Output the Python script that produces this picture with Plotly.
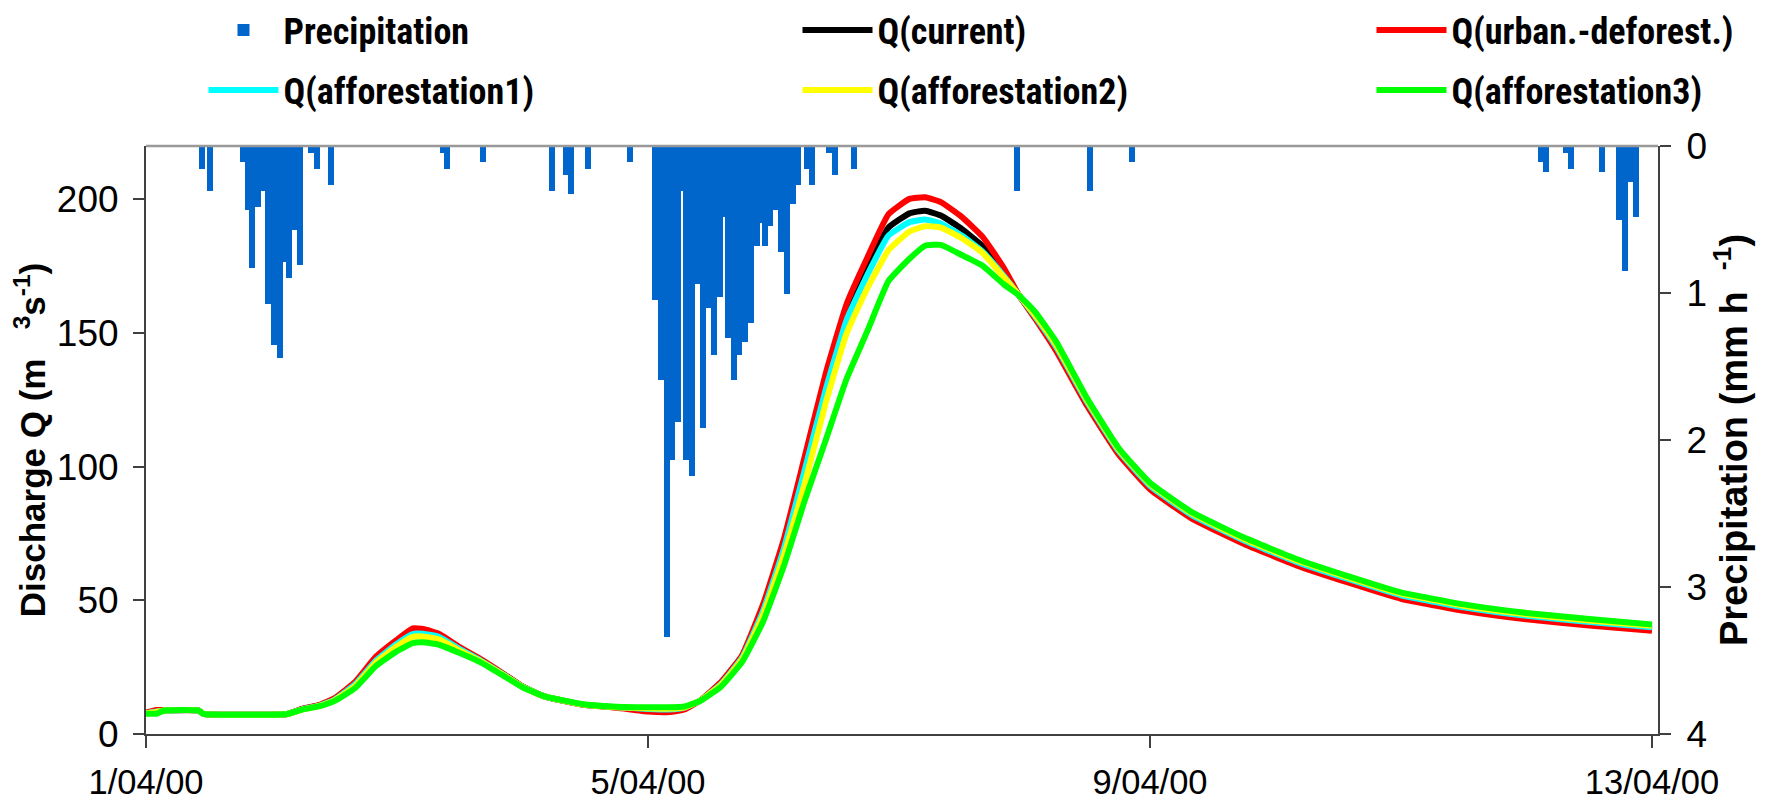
import pandas as pd
import plotly.graph_objects as go

START = pd.Timestamp("2000-04-01 00:00")

# ---------------- data ----------------
# precipitation bars: centre time in hours after 1/04/00 00:00, intensity in mm/h
precip_hours = [10.7, 12.2, 18.6, 19.4, 20.3, 21.4, 22.5, 23.4, 24.5, 25.6,
                26.5, 27.3, 28.4, 29.5, 31.6, 32.7, 35.4, 56.7, 57.5, 64.5,
                77.6, 80.2, 81.3, 84.5, 92.6, 97.3, 98.5, 99.6, 100.7, 101.7,
                102.5, 103.3, 104.4, 105.5, 106.5, 107.6, 108.6, 109.8, 110.4, 111.3,
                112.4, 113.5, 114.6, 115.7, 116.8, 117.5, 118.4, 119.4, 120.4, 121.4,
                122.6, 123.7, 124.8, 126.3, 127.4, 130.6, 131.8, 135.4, 166.6, 180.5,
                188.6, 266.7, 267.7, 271.5, 272.5, 278.4, 281.7, 282.8, 283.9, 284.9]
precip_mm_h = [0.154, 0.306, 0.109, 0.435, 0.830, 0.415, 0.306, 1.075, 1.354, 1.442,
               0.789, 0.898, 0.571, 0.810, 0.048, 0.156, 0.265, 0.048, 0.156, 0.109,
               0.306, 0.197, 0.327, 0.156, 0.109, 1.048, 1.592, 3.340, 2.136, 1.878,
               0.306, 2.136, 2.245, 0.941, 1.918, 1.100, 1.422, 1.027, 0.485, 1.306,
               1.592, 1.422, 1.333, 1.204, 0.680, 0.526, 0.680, 0.546, 0.438, 0.723,
               1.007, 0.397, 0.265, 0.156, 0.265, 0.048, 0.197, 0.156, 0.306, 0.306,
               0.109, 0.109, 0.177, 0.048, 0.156, 0.177, 0.503, 0.850, 0.245, 0.483]

# discharge: hours after 1/04/00 00:00 and Q (m3/s) for each scenario
q_hours = [0, 2, 3.5, 10, 11, 27, 30, 33, 36, 40,
           44, 48, 51, 53, 56, 60, 64, 68, 72, 76,
           80, 84, 90, 96, 100, 103, 106, 110, 114, 118,
           122, 126, 130, 134, 138, 142, 146, 149, 152, 156,
           160, 164, 167, 170, 174, 180, 186, 192, 200, 210,
           220, 230, 240, 252, 264, 276, 288]
q_current = [7.8, 8.6, 8.8, 8.8, 7.5, 7.5, 9.4, 10.6, 13.0, 19.0,
             28.0, 34.3, 38.0, 38.2, 36.8, 32.0, 27.6, 22.8, 17.7, 14.2,
             12.4, 10.9, 10.0, 9.2, 9.0, 9.8, 12.5, 19.0, 29.0, 47.0,
             71.0, 101.5, 132.0, 158.0, 175.0, 189.5, 194.8, 195.8, 194.0, 189.0,
             182.5, 172.5, 164.0, 156.0, 144.5, 123.5, 105.4, 92.4, 81.4, 71.9,
             63.9, 57.4, 51.4, 46.9, 43.7, 41.4, 39.4]
q_urban = [8.0, 9.0, 9.0, 8.8, 7.5, 7.5, 9.5, 10.8, 13.3, 19.5,
           29.0, 35.3, 39.5, 39.3, 37.5, 32.5, 28.0, 23.0, 17.8, 14.2,
           12.3, 10.8, 9.8, 8.4, 8.2, 9.2, 12.6, 19.5, 29.5, 48.5,
           73.0, 104.0, 135.0, 161.0, 178.5, 194.5, 200.2, 200.8, 199.0, 193.5,
           186.0, 174.5, 164.0, 155.5, 143.5, 122.7, 104.6, 91.6, 80.6, 71.1,
           63.1, 56.6, 50.6, 46.1, 42.9, 40.6, 38.6]
q_aff1 = [7.7, 8.4, 8.8, 8.8, 7.5, 7.5, 9.3, 10.5, 12.8, 18.6,
          27.5, 33.8, 37.4, 37.5, 36.4, 31.8, 27.5, 22.7, 17.7, 14.2,
          12.4, 10.9, 10.0, 9.4, 9.2, 9.9, 12.5, 18.8, 28.6, 46.0,
          69.5, 99.0, 129.0, 155.0, 172.0, 186.5, 191.5, 192.5, 191.0, 186.5,
          180.5, 171.5, 164.0, 156.3, 145.0, 124.1, 105.9, 92.9, 81.9, 72.4,
          64.4, 57.9, 51.9, 47.4, 44.2, 41.9, 39.9]
q_aff2 = [7.7, 8.2, 8.8, 8.8, 7.5, 7.5, 9.2, 10.4, 12.6, 18.0,
          26.8, 32.8, 36.3, 36.5, 35.4, 31.2, 27.2, 22.5, 17.6, 14.2,
          12.4, 10.9, 10.0, 9.6, 9.5, 10.0, 12.5, 18.5, 28.0, 44.5,
          67.0, 94.0, 124.0, 150.0, 167.0, 181.0, 188.0, 190.0, 189.5, 185.5,
          180.0, 171.0, 164.0, 156.8, 145.8, 124.8, 106.5, 93.5, 82.5, 73.0,
          65.0, 58.5, 52.5, 48.0, 44.8, 42.5, 40.5]
q_aff3 = [7.6, 7.6, 8.8, 8.8, 7.5, 7.5, 9.2, 10.3, 12.3, 17.2,
          25.5, 31.0, 34.0, 34.3, 33.4, 30.3, 26.8, 22.2, 17.5, 14.2,
          12.5, 11.0, 10.2, 10.0, 10.0, 10.3, 12.4, 17.8, 27.0, 42.0,
          63.0, 87.5, 110.0, 133.0, 151.0, 169.5, 177.8, 182.7, 183.0, 179.2,
          175.2, 168.3, 164.0, 158.0, 147.0, 125.5, 107.0, 94.0, 83.0, 73.5,
          65.5, 59.0, 53.0, 48.5, 45.3, 43.0, 41.0]

tick_dates = ["2000-04-01", "2000-04-05", "2000-04-09", "2000-04-13"]
tick_labels = ["1/04/00", "5/04/00", "9/04/00", "13/04/00"]
q_ticks = [0, 50, 100, 150, 200]
p_ticks = [0, 1, 2, 3, 4]

# ---------------- figure ----------------
def to_time(hours):
    return START + pd.to_timedelta(hours, unit="h")

OFF = 8                      # default page margin of the html body
PAGE_W, PAGE_H = 1765, 807
W, H = PAGE_W - OFF, PAGE_H - OFF
# plot area in page pixels
PL, PR, PT, PB = 146, 1658, 146, 734
ML, MR, MT, MB = PL - OFF, W - (PR - OFF), PT - OFF, H - (PB - OFF)
PW, PH = PR - PL, PB - PT

NARROW = "Liberation Sans Narrow, Arial Narrow, Roboto Condensed, DejaVu Sans Condensed, sans-serif"
REG = "Liberation Sans, Arial, sans-serif"
AXIS_COL = "#404040"

fig = go.Figure()

fig.add_trace(go.Bar(
    x=to_time(precip_hours), y=precip_mm_h, name="Precipitation",
    marker=dict(color="#0066CC", line=dict(width=0)),
    width=1.1 * 3600 * 1000, yaxis="y", legend="legend",
))

series = [
    ("Q(current)", q_current, "#000000", "legend2"),
    ("Q(urban.-deforest.)", q_urban, "#FF0000", "legend3"),
    ("Q(afforestation1)", q_aff1, "#00FFFF", "legend4"),
    ("Q(afforestation2)", q_aff2, "#FFFF00", "legend5"),
    ("Q(afforestation3)", q_aff3, "#00FF00", "legend6"),
]
for name, vals, col, leg in series:
    fig.add_trace(go.Scatter(
        x=to_time(q_hours), y=vals, name=name, mode="lines",
        line=dict(color=col, width=6, shape="spline", smoothing=0.4),
        yaxis="y2", legend=leg,
    ))

def px_x(px):          # page px -> paper x
    return (px - PL) / PW

def px_y(py):          # page px -> paper y
    return (PB - py) / PH

ITEMW = 70
TEXT_OFF = ITEMW + 10.5
leg_font = dict(family=NARROW, size=36, color="black", weight="bold")
col_text_px = [284, 878, 1452]
row_px = [30, 90]
legend_ids = ["legend", "legend2", "legend3", "legend4", "legend5", "legend6"]
layout_legends = {}
for i, lid in enumerate(legend_ids):
    c, r = i % 3, i // 3
    layout_legends[lid] = dict(
        x=px_x(col_text_px[c] - TEXT_OFF), y=px_y(row_px[r]),
        xanchor="left", yanchor="middle",
        bgcolor="rgba(0,0,0,0)", borderwidth=0,
        font=leg_font, itemwidth=ITEMW, orientation="v",
    )

ytick_font = dict(family=REG, size=37, color="black")
xtick_font = dict(family=REG, size=34.5, color="black")

fig.update_layout(
    width=W, height=H,
    margin=dict(l=ML, r=MR, t=MT, b=MB, autoexpand=False),
    paper_bgcolor="white", plot_bgcolor="white",
    barmode="overlay", bargap=0,
    showlegend=True,
    xaxis=dict(
        type="date",
        range=[to_time(0), to_time(289.15)],
        tickvals=tick_dates, ticktext=tick_labels,
        ticks="outside", ticklen=12, tickwidth=1.5, tickcolor=AXIS_COL,
        showline=True, linecolor=AXIS_COL, linewidth=2,
        showgrid=False, zeroline=False,
        tickfont=xtick_font, ticklabelstandoff=5,
    ),
    yaxis=dict(
        side="right", range=[4, 0], tickvals=p_ticks,
        ticks="outside", ticklen=11, tickwidth=1.5, tickcolor=AXIS_COL,
        showline=True, linecolor=AXIS_COL, linewidth=2,
        showgrid=False, zeroline=False,
        tickfont=ytick_font, ticklabelstandoff=8,
        title=dict(text="Precipitation (mm h\u00a0\u00a0<sup>-1</sup>)",
                   font=dict(family=REG, size=38, color="black", weight="bold"),
                   standoff=13),
    ),
    yaxis2=dict(
        side="left", overlaying="y", range=[0, 220], tickvals=q_ticks,
        ticks="outside", ticklen=11, tickwidth=1.5, tickcolor=AXIS_COL,
        showline=True, linecolor=AXIS_COL, linewidth=2,
        showgrid=False, zeroline=False,
        tickfont=ytick_font, ticklabelstandoff=7,
        title=dict(text="Discharge Q (m\u00a0\u00a0\u00a0<sup>3</sup>s<sup>-1</sup>)",
                   font=dict(family=REG, size=35, color="black", weight="bold"),
                   standoff=11),
    ),
    shapes=[dict(type="line", xref="paper", yref="paper", x0=0, x1=1, y0=1, y1=1,
                 line=dict(color="#999999", width=2.5))],
    **layout_legends,
)

fig.write_html("out.html")
